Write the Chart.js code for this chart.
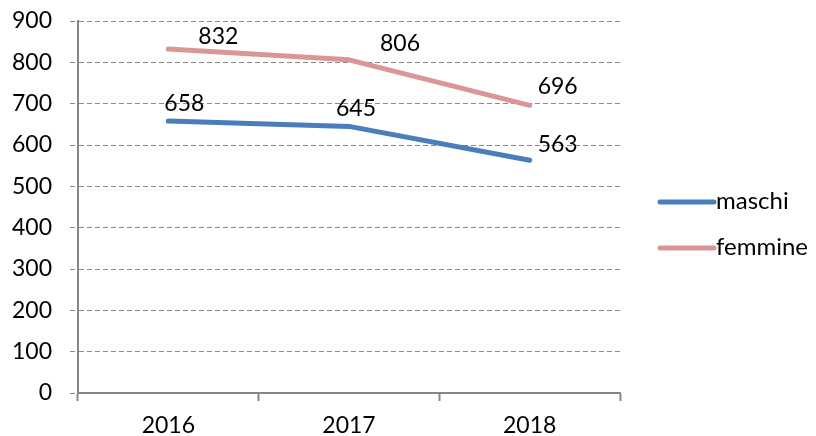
<!DOCTYPE html>
<html><head><meta charset="utf-8">
<script src="https://cdn.jsdelivr.net/npm/chart.js@4"></script>
<style>html,body{margin:0;padding:0;background:#fff}#wrap{width:816px;height:436px}</style>
</head><body><div id="wrap"><canvas id="c"></canvas></div>
<script>
const categories = ['2016', '2017', '2018'];
const maschi = [658, 645, 563];
const femmine = [832, 806, 696];
const yTicks = [0, 100, 200, 300, 400, 500, 600, 700, 800, 900];

const FONT = 'Lato, "Open Sans", sans-serif';
// label offsets (style): [dx, dy] from point
const labelOffsets = {
  0: [[16, -17], [7, -18], [28, -16]],
  1: [[50, -13], [51, -16], [28, -19]]
};

const labelPlugin = {
  id: 'labels',
  afterDatasetsDraw(chart) {
    const ctx = chart.ctx;
    ctx.save();
    ctx.font = '23px ' + FONT;
    ctx.fillStyle = '#000';
    ctx.textAlign = 'center';
    ctx.textBaseline = 'middle';
    chart.data.datasets.forEach((ds, di) => {
      const meta = chart.getDatasetMeta(di);
      meta.data.forEach((pt, i) => {
        const off = labelOffsets[di][i];
        ctx.fillText(String(ds.data[i]), pt.x + off[0], pt.y + off[1]);
      });
    });
    ctx.restore();
  }
};

const legendPlugin = {
  id: 'customLegend',
  afterDraw(chart) {
    const ctx = chart.ctx;
    ctx.save();
    ctx.font = '24px ' + FONT;
    ctx.textBaseline = 'middle';
    ctx.textAlign = 'left';
    chart.data.datasets.forEach((ds, i) => {
      const y = 202 + i * 46;
      ctx.strokeStyle = ds.borderColor;
      ctx.lineWidth = 5;
      ctx.lineCap = 'round';
      ctx.beginPath();
      ctx.moveTo(660, y);
      ctx.lineTo(714, y);
      ctx.stroke();
      ctx.fillStyle = '#000';
      ctx.fillText(ds.label, 716, y - 1);
    });
    ctx.restore();
  }
};

new Chart(document.getElementById('c'), {
  type: 'line',
  data: {
    labels: categories,
    datasets: [
      { label: 'maschi', data: maschi, borderColor: '#4A7EBB', borderWidth: 5, pointRadius: 0, tension: 0, borderCapStyle: 'round', borderJoinStyle: 'round' },
      { label: 'femmine', data: femmine, borderColor: '#D99694', borderWidth: 5, pointRadius: 0, tension: 0, borderCapStyle: 'round', borderJoinStyle: 'round' }
    ]
  },
  options: {
    responsive: true,
    maintainAspectRatio: false,
    animation: false,
    layout: { padding: { left: 0, right: 196, top: 21, bottom: 0 } },
    plugins: { legend: { display: false }, tooltip: { enabled: false } },
    scales: {
      x: {
        offset: true,
        grid: { offset: true, drawOnChartArea: false, drawTicks: true, tickLength: 8, tickColor: '#868686', tickWidth: 2 },
        border: { color: '#868686', width: 2 },
        ticks: { font: { family: FONT, size: 23 }, color: '#000', padding: 11, maxRotation: 0 },
        afterFit(s) { s.height = 43; s.paddingLeft = 0; s.paddingRight = 0; }
      },
      y: {
        min: 0, max: 900,
        afterBuildTicks(s) { s.ticks = yTicks.map(v => ({ value: v })); },
        grid: { color: '#8a8a8a', lineWidth: 1, tickLength: 8, drawTicks: true, tickBorderDash: [5, 3] },
        border: { color: '#868686', width: 2, dash: [5, 3] },
        ticks: { font: { family: FONT, size: 23 }, color: '#000', padding: 18 },
        afterFit(s) { s.width = 78; s.paddingTop = 0; s.paddingBottom = 0; }
      }
    }
  },
  plugins: [labelPlugin, legendPlugin]
});
</script>
</body></html>
